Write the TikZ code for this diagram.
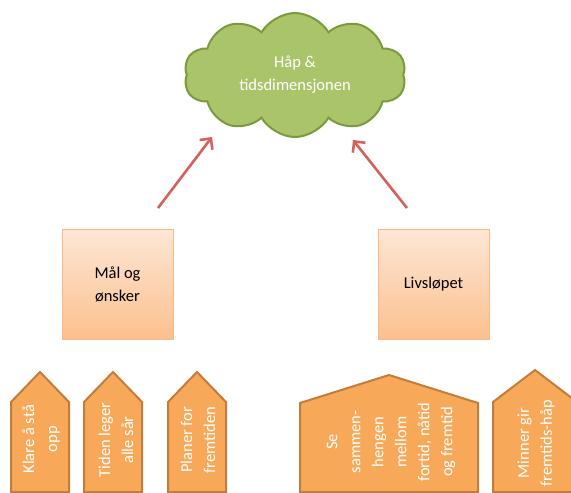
\documentclass[tikz,border=0pt]{standalone}
\usepackage{fontspec}
\setmainfont{Carlito}
\usetikzlibrary{shapes.symbols,arrows.meta}
\definecolor{cloudfill}{RGB}{170,196,106}
\definecolor{cloudline}{RGB}{122,154,62}
\definecolor{boxtop}{RGB}{253,231,213}
\definecolor{boxbot}{RGB}{251,192,143}
\definecolor{boxline}{RGB}{249,185,135}
\definecolor{tabfill}{RGB}{247,168,89}
\definecolor{tabline}{RGB}{196,124,58}
\definecolor{arrowred}{RGB}{210,98,90}
\tikzset{
  txt/.style={font=\fontsize{16.5}{23}\selectfont, align=center, inner sep=0pt},
  cloudnode/.style={cloud, cloud puffs=10, cloud puff arc=120, aspect=1.9,
    minimum width=222pt, minimum height=124pt, fill=cloudfill, draw=cloudline,
    line width=2pt, text=white, txt},
  topicbox/.style={draw=boxline, line width=0.8pt, top color=boxtop, bottom color=boxbot,
    minimum width=111pt, minimum height=110pt, txt},
  tab/.style={fill=tabfill, draw=tabline, line width=2pt, line join=miter},
  tabtext/.style={txt, rotate=90, text=white},
  uparrow/.style={draw=arrowred, line width=2.6pt,
    -{Straight Barb[length=8pt, width=16pt, line width=2.6pt]}}
}
\begin{document}
\begin{tikzpicture}[x=1pt, y=-1pt]
  \useasboundingbox (0,0) rectangle (571,493);
  \clip (0,0) rectangle (571,493);

  % central cloud
  \node[cloudnode] (cloud) at (295,75) {Håp \&\\tidsdimensjonen};

  % the two topic boxes
  \node[topicbox] (goals) at (117.5,284) {Mål og\\ønsker};
  \node[topicbox] (life) at (433.5,284) {Livsløpet};

  % arrows up to the cloud
  \coordinate (gA) at (158,208);
  \coordinate (gB) at (212,137);
  \coordinate (lA) at (407,208);
  \coordinate (lB) at (353,140);
  \draw[uparrow] (gA) -- (gB);
  \draw[uparrow] (lA) -- (lB);

  % pointed tabs along the bottom
  \draw[tab] (11,492) -- (11,402) -- (40,372) -- (69,402) -- (69,492) -- cycle;
  \draw[tab] (84,492) -- (84,402) -- (113,372) -- (142,402) -- (142,492) -- cycle;
  \draw[tab] (168,492) -- (168,402) -- (197,372) -- (226,402) -- (226,492) -- cycle;
  \draw[tab] (300,492) -- (300,403) -- (389,375) -- (478,403) -- (478,492) -- cycle;
  \draw[tab] (493,492) -- (493,402) -- (535,370) -- (577,402) -- (577,492) -- cycle;

  \node[tabtext] (t1) at (41,439) {Klare å stå\\opp};
  \node[tabtext] (t2) at (116,440) {Tiden leger\\alle sår};
  \node[tabtext] (t3) at (198,440) {Planer for\\fremtiden};
  \node[tabtext] (t4) at (391,442) {Se\\sammen-\\hengen\\mellom\\fortid, nåtid\\og fremtid};
  \node[tabtext] (t5) at (536,443) {Minner gir\\fremtids-håp};
\end{tikzpicture}
\end{document}
